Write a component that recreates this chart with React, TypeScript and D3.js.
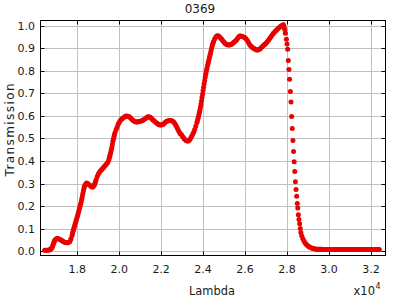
import React from "react";
import * as d3 from "d3";

// ---- data (Lambda in units of 1e4) ----
const MAIN_START = 1.645;
const MAIN_STEP = 0.005;
const MAIN_T = [
  0.004, 0.004, 0.004, 0.004, 0.005, 0.006, 0.010, 0.016, 0.028, 0.042,
  0.050, 0.055, 0.056, 0.055, 0.053, 0.051, 0.048, 0.045, 0.042, 0.040,
  0.038, 0.037, 0.037, 0.039, 0.043, 0.054, 0.068, 0.088, 0.104, 0.120,
  0.136, 0.152, 0.169, 0.187, 0.205, 0.223, 0.247, 0.270, 0.289, 0.298,
  0.302, 0.300, 0.296, 0.292, 0.288, 0.284, 0.285, 0.291, 0.302, 0.317,
  0.330, 0.341, 0.349, 0.355, 0.360, 0.365, 0.370, 0.376, 0.382, 0.387,
  0.393, 0.403, 0.421, 0.440, 0.460, 0.487, 0.507, 0.525, 0.538, 0.550,
  0.563, 0.571, 0.579, 0.584, 0.588, 0.592, 0.595, 0.598, 0.599, 0.598,
  0.597, 0.594, 0.590, 0.585, 0.580, 0.577, 0.575, 0.573, 0.573, 0.574,
  0.575, 0.576, 0.577, 0.579, 0.582, 0.585, 0.588, 0.592, 0.595, 0.596,
  0.595, 0.593, 0.588, 0.583, 0.579, 0.575, 0.571, 0.567, 0.564, 0.561,
  0.559, 0.559, 0.561, 0.563, 0.567, 0.572, 0.575, 0.577, 0.578, 0.579,
  0.579, 0.578, 0.576, 0.573, 0.566, 0.558, 0.550, 0.540, 0.531, 0.522,
  0.518, 0.512, 0.505, 0.499, 0.494, 0.490, 0.488, 0.489, 0.493, 0.500,
  0.508, 0.517, 0.527, 0.540, 0.554, 0.569, 0.586, 0.605, 0.626, 0.652,
  0.682, 0.712, 0.742, 0.771, 0.796, 0.818, 0.838, 0.858, 0.877, 0.897,
  0.916, 0.930, 0.941, 0.949, 0.954, 0.955, 0.953, 0.948, 0.943, 0.938,
  0.932, 0.926, 0.921, 0.917, 0.915, 0.914, 0.914, 0.915, 0.918, 0.921,
  0.925, 0.929, 0.933, 0.937, 0.944, 0.951, 0.954, 0.954, 0.952, 0.951,
  0.949, 0.946, 0.941, 0.935, 0.927, 0.919, 0.912, 0.907, 0.903, 0.900,
  0.897, 0.894, 0.892, 0.892, 0.893, 0.896, 0.900, 0.905, 0.910, 0.914,
  0.918, 0.922, 0.928, 0.934, 0.940, 0.946, 0.953, 0.960, 0.966, 0.971,
  0.976, 0.980, 0.985, 0.989, 0.993, 0.997, 1.000, 1.003,
];

// extra samples read on the steep flanks
const STEEP_L = [
  1.6775, 1.6825, 1.6875, 1.6925,
  1.7775, 1.7825, 1.7875, 1.7925, 1.7975, 1.8025, 1.8075, 1.8125, 1.8175,
  1.8225, 1.8275, 1.8325,
  1.8825, 1.8875, 1.9525, 1.9575, 1.9625, 1.9675, 1.9725, 1.9775,
  2.3725, 2.3775, 2.3825, 2.3875, 2.3925, 2.3975, 2.4025, 2.4075, 2.4125,
  2.4175, 2.4225, 2.4275, 2.4325, 2.4375, 2.4425, 2.4475,
];
const STEEP_T = [
  0.013, 0.022, 0.035, 0.047,
  0.078, 0.096, 0.112, 0.128, 0.144, 0.160, 0.178, 0.196, 0.214,
  0.235, 0.258, 0.280,
  0.296, 0.309, 0.412, 0.430, 0.450, 0.473, 0.497, 0.516,
  0.577, 0.595, 0.615, 0.639, 0.667, 0.697, 0.727, 0.757, 0.784,
  0.807, 0.828, 0.848, 0.868, 0.887, 0.907, 0.923,
];

const DROP_L = [
  2.783, 2.786, 2.789, 2.792, 2.797, 2.800, 2.803, 2.806, 2.809, 2.812,
  2.816, 2.819, 2.822, 2.825, 2.828, 2.831, 2.834, 2.837, 2.840, 2.843,
  2.846, 2.849, 2.851, 2.854, 2.857, 2.860, 2.863, 2.866,
];
const DROP_T = [
  1.004, 0.995, 0.983, 0.966, 0.940, 0.919, 0.895, 0.845, 0.806, 0.762,
  0.708, 0.661, 0.597, 0.544, 0.491, 0.442, 0.397, 0.353, 0.308, 0.273,
  0.243, 0.211, 0.191, 0.162, 0.140, 0.122, 0.100, 0.083,
];

const TAIL_START = 2.87;
const TAIL_STEP = 0.005;
const TAIL_T = [
  0.068, 0.056, 0.046, 0.038, 0.032, 0.027, 0.023, 0.020, 0.017, 0.015,
  0.013, 0.012, 0.011, 0.010, 0.009, 0.009, 0.008, 0.008, 0.008, 0.008,
  0.007, 0.007, 0.007, 0.007, 0.007, 0.007, 0.007, 0.007, 0.007, 0.007,
  0.007, 0.007, 0.007, 0.007, 0.007, 0.007, 0.007, 0.007, 0.007, 0.007,
  0.007, 0.007, 0.007, 0.007, 0.007, 0.007, 0.007, 0.007, 0.007, 0.007,
  0.007, 0.007, 0.007, 0.007, 0.007, 0.007, 0.007, 0.007, 0.007, 0.007,
  0.007, 0.007, 0.007, 0.007, 0.007, 0.007, 0.007, 0.007, 0.007, 0.007,
  0.007, 0.007, 0.007, 0.007, 0.007,
];

const X_TICKS = [1.8, 2.0, 2.2, 2.4, 2.6, 2.8, 3.0, 3.2];
const X_TICK_LABELS = ["1.8", "2.0", "2.2", "2.4", "2.6", "2.8", "3.0", "3.2"];
const Y_TICKS = [0, 0.1, 0.2, 0.3, 0.4, 0.5, 0.6, 0.7, 0.8, 0.9, 1.0];
const Y_TICK_LABELS = ["0.0", "0.1", "0.2", "0.3", "0.4", "0.5", "0.6", "0.7", "0.8", "0.9", "1.0"];

const TITLE = "0369";
const X_LABEL = "Lambda";
const Y_LABEL = "Transmission";

type Pt = { l: number; t: number };

const points: Pt[] = [
  ...MAIN_T.map((t, i) => ({ l: MAIN_START + i * MAIN_STEP, t })),
  ...STEEP_L.map((l, i) => ({ l, t: STEEP_T[i] })),
  ...DROP_L.map((l, i) => ({ l, t: DROP_T[i] })),
  ...TAIL_T.map((t, i) => ({ l: TAIL_START + i * TAIL_STEP, t })),
];

export default function App() {
  const W = 400;
  const H = 300;
  const left = 40.5;
  const right = 385.5;
  const top = 20.5;
  const bottom = 255.5;

  const x = d3.scaleLinear().domain([1.625, 3.267]).range([40.5, 385]);
  const y = d3.scaleLinear().domain([-0.017, 1.025]).range([255, 20]);
  const crisp = (v: number) => Math.round(v) + 0.5;

  const font = "'DejaVu Sans', sans-serif";
  const textColor = "#1a1a1a";

  return (
    <svg
      width={W}
      height={H}
      style={{ position: "absolute", left: 0, top: 0, background: "#fff" }}
    >
      <rect x={0} y={0} width={W} height={H} fill="#fff" />
      {/* grid */}
      <g stroke="#c0c0c0" strokeWidth={1}>
        {X_TICKS.map((v) => (
          <line key={"gx" + v} x1={crisp(x(v))} x2={crisp(x(v))} y1={top} y2={bottom} />
        ))}
        {Y_TICKS.map((v) => (
          <line key={"gy" + v} x1={left} x2={right} y1={crisp(y(v))} y2={crisp(y(v))} />
        ))}
      </g>
      {/* tick marks inward on all sides */}
      <g stroke="#000" strokeWidth={1}>
        {X_TICKS.map((v) => (
          <g key={"tx" + v}>
            <line x1={crisp(x(v))} x2={crisp(x(v))} y1={bottom} y2={bottom - 4} />
            <line x1={crisp(x(v))} x2={crisp(x(v))} y1={top} y2={top + 4} />
          </g>
        ))}
        {Y_TICKS.map((v) => (
          <g key={"ty" + v}>
            <line x1={left} x2={left + 4} y1={crisp(y(v))} y2={crisp(y(v))} />
            <line x1={right} x2={right - 4} y1={crisp(y(v))} y2={crisp(y(v))} />
          </g>
        ))}
      </g>
      {/* data */}
      <g fill="#ea0000">
        {points.map((p, i) => (
          <circle key={i} cx={x(p.l)} cy={y(p.t)} r={2.5} />
        ))}
      </g>
      {/* frame */}
      <rect
        x={left}
        y={top}
        width={right - left}
        height={bottom - top}
        fill="none"
        stroke="#000"
        strokeWidth={1}
      />
      {/* tick labels */}
      <g fontFamily={font} fontSize={11} fill={textColor}>
        {X_TICKS.map((v, i) => (
          <text key={"lx" + v} x={x(v)} y={272.5} textAnchor="middle">
            {X_TICK_LABELS[i]}
          </text>
        ))}
        {Y_TICKS.map((v, i) => (
          <text key={"ly" + v} x={35} y={y(v) + 4} textAnchor="end">
            {Y_TICK_LABELS[i]}
          </text>
        ))}
      </g>
      {/* title and labels */}
      <text x={200} y={12.5} textAnchor="middle" fontFamily={font} fontSize={12} fill={textColor}>
        {TITLE}
      </text>
      <text
        x={212}
        y={295}
        textAnchor="middle"
        fontFamily={font}
        fontSize={11.5}
        fill={textColor}
        textLength={46}
        lengthAdjust="spacingAndGlyphs"
      >
        {X_LABEL}
      </text>
      <text
        transform="translate(13.5,130) rotate(-90)"
        textAnchor="middle"
        fontFamily={font}
        fontSize={12}
        fill={textColor}
        textLength={93}
        lengthAdjust="spacing"
      >
        {Y_LABEL}
      </text>
      <text x={375} y={295} textAnchor="end" fontFamily={font} fontSize={11.5} fill={textColor}>
        x10
      </text>
      <text x={375.5} y={289} fontFamily={font} fontSize={8} fill={textColor}>
        4
      </text>
    </svg>
  );
}
